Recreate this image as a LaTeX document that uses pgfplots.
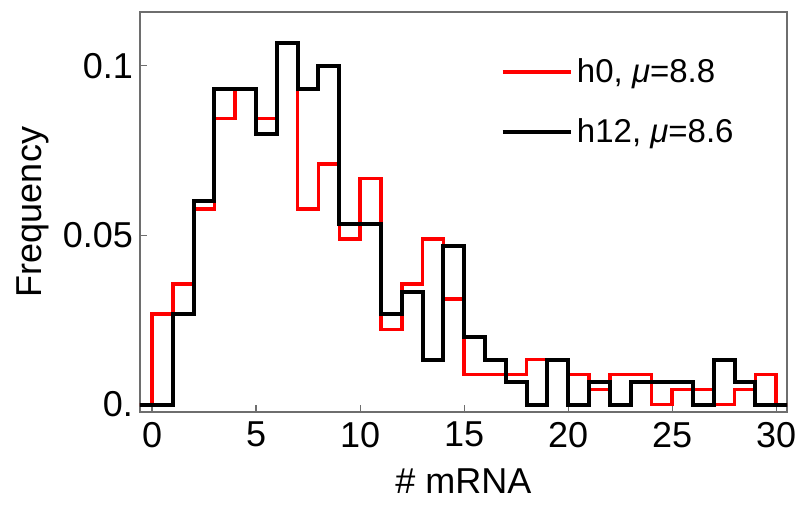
\documentclass[border=0pt]{standalone}
\usepackage{fontspec}
\setmainfont{Liberation Sans}
\usepackage{pgfplots}
\pgfplotsset{compat=1.18}
\usetikzlibrary{calc}
\definecolor{framegray}{RGB}{110,110,110}
\definecolor{histred}{RGB}{255,0,0}

\begin{document}
\begin{tikzpicture}
\begin{axis}[
    name=ax,
    scale only axis,
    width=323.5pt,
    height=200pt,
    xmin=-0.58, xmax=30.52,
    ymin=-0.0022, ymax=0.1159,
    xtick={0,5,10,15,20,25,30},
    xticklabels={0,5,10,15,20,25,30},
    ytick={0,0.05,0.1},
    yticklabels={0.,0.05,0.1},
    tick pos=left,
    tick align=inside,
    major tick length=3.5pt,
    every tick/.style={framegray, line width=0.6pt},
    axis line style={framegray, line width=0.8pt},
    tick label style={font=\fontsize{18}{22}\selectfont},
    xticklabel style={yshift=-1.5pt},
    label style={font=\fontsize{18}{22}\selectfont},
    xlabel={\# mRNA},
    ylabel={Frequency},
    xlabel style={yshift=-6pt, inner sep=1pt},
    ylabel style={yshift=0pt},
    legend style={at={(0.548,0.905)}, anchor=north west, draw=none, fill=none,
        font=\fontsize{16.5}{20}\selectfont, row sep=12.5pt},
    legend cell align=left,
    legend image code/.code={\draw[#1, line width=1.8pt] (0pt,0pt) -- (22pt,0pt);
        \path (0pt,0pt) -- (34pt,0pt);},
]
\addplot[const plot mark left, histred, line width=1.8pt] coordinates {
    (-1,0) (0,0.0267) (1,0.0356) (2,0.0578) (3,0.0844) (4,0.0933) (5,0.0844)
    (6,0.1067) (7,0.0578) (8,0.0711) (9,0.0489) (10,0.0667) (11,0.0222)
    (12,0.0356) (13,0.0489) (14,0.0311) (15,0.0089) (16,0.0089) (17,0.0089)
    (18,0.0133) (19,0.0133) (20,0.0089) (21,0.0044) (22,0.0089) (23,0.0089)
    (24,0) (25,0.0044) (26,0.0044) (27,0) (28,0.0044) (29,0.0089) (30,0) (31,0)
};
\addlegendentry{h0, \textit{μ}=8.8}
\addplot[const plot mark left, black, line width=2pt] coordinates {
    (-1,0) (0,0) (1,0.0267) (2,0.06) (3,0.0933) (4,0.0933) (5,0.08)
    (6,0.1067) (7,0.0933) (8,0.1) (9,0.0533) (10,0.0533) (11,0.0267)
    (12,0.0333) (13,0.0133) (14,0.0467) (15,0.02) (16,0.0133) (17,0.0067)
    (18,0) (19,0.0133) (20,0) (21,0.0067) (22,0) (23,0.0067)
    (24,0.0067) (25,0.0067) (26,0) (27,0.0133) (28,0.0067) (29,0) (30,0) (31,0)
};
\addlegendentry{h12, \textit{μ}=8.6}
\end{axis}
\pgfresetboundingbox
\path[use as bounding box] ($(ax.south west)+(-70pt,-46.5pt)$) rectangle ($(ax.north east)+(4.5pt,6pt)$);
\end{tikzpicture}
\end{document}
